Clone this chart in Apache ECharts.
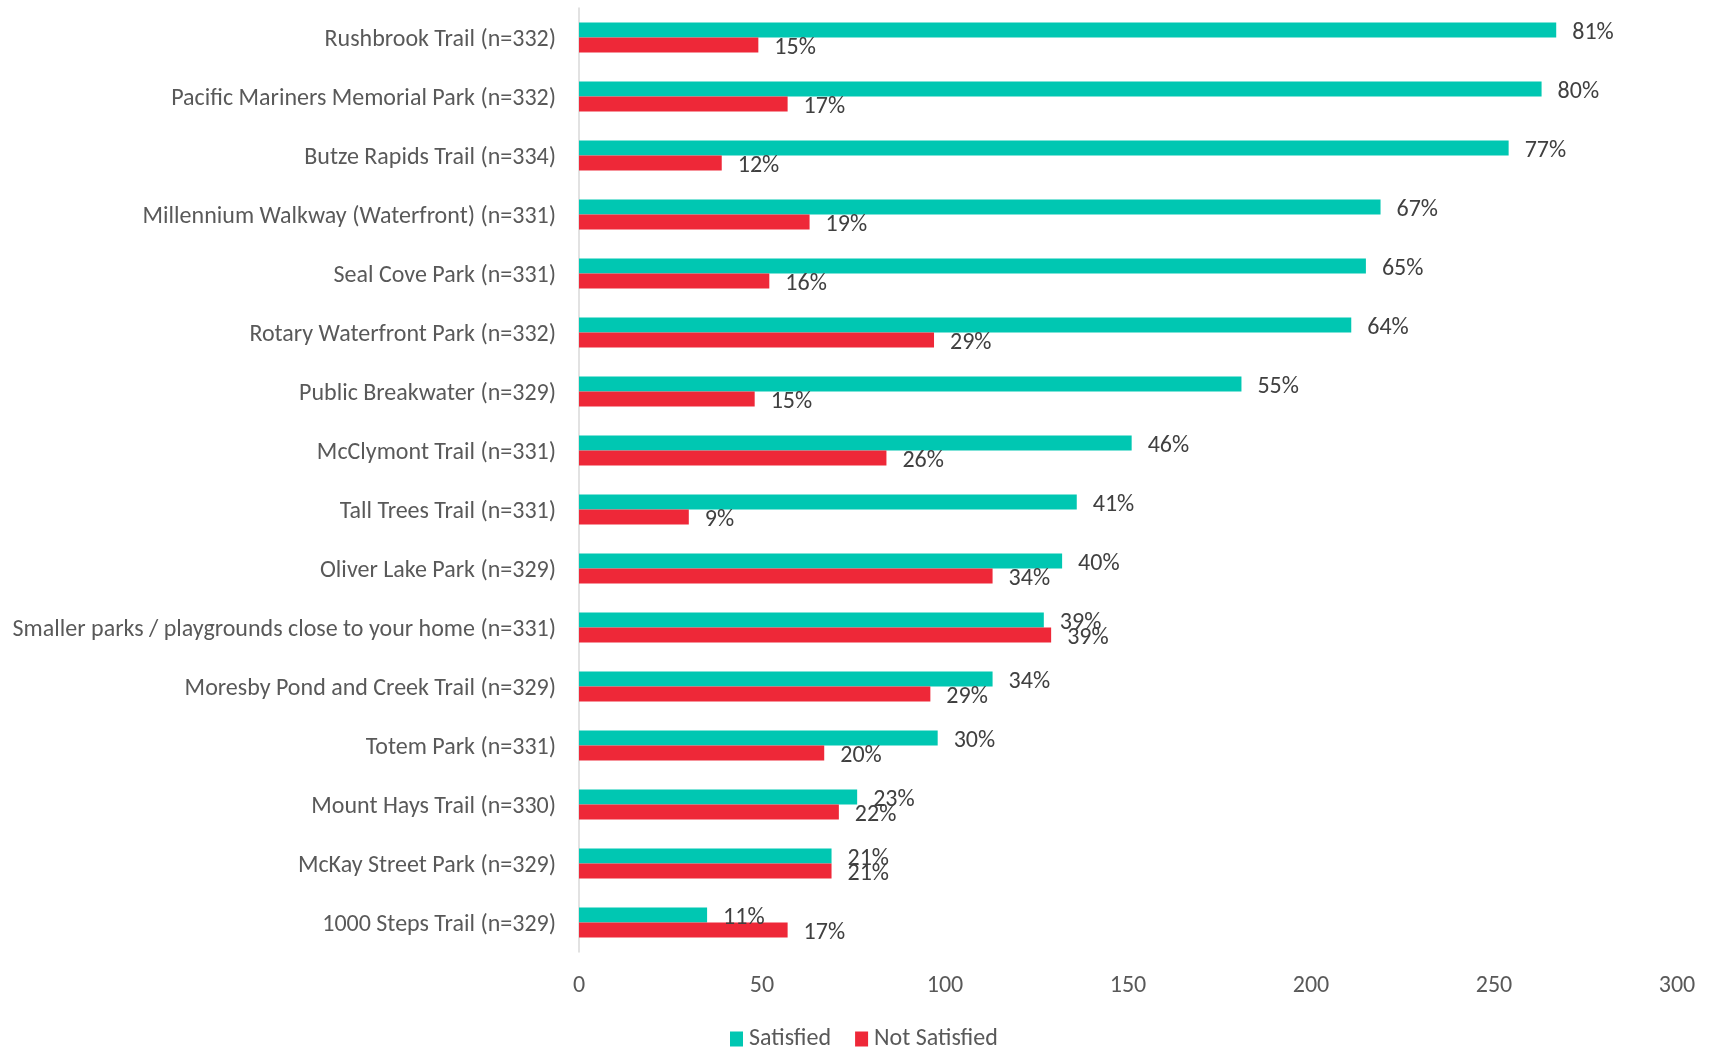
<!DOCTYPE html>
<html>
<head>
<meta charset="utf-8">
<script src="https://cdn.jsdelivr.net/npm/echarts@6/dist/echarts.min.js"></script>
<style>
html,body{margin:0;padding:0;background:#fff;}
#chart{width:1711px;height:1049px;}
</style>
</head>
<body>
<div id="chart"></div>
<script>
const categories = [
  "Rushbrook Trail (n=332)",
  "Pacific Mariners Memorial Park (n=332)",
  "Butze Rapids Trail (n=334)",
  "Millennium Walkway (Waterfront) (n=331)",
  "Seal Cove Park (n=331)",
  "Rotary Waterfront Park (n=332)",
  "Public Breakwater (n=329)",
  "McClymont Trail (n=331)",
  "Tall Trees Trail (n=331)",
  "Oliver Lake Park (n=329)",
  "Smaller parks / playgrounds close to your home (n=331)",
  "Moresby Pond and Creek Trail (n=329)",
  "Totem Park (n=331)",
  "Mount Hays Trail (n=330)",
  "McKay Street Park (n=329)",
  "1000 Steps Trail (n=329)"
];
const satisfiedCounts = [267, 263, 254, 219, 215, 211, 181, 151, 136, 132, 127, 113, 98, 76, 69, 35];
const notSatisfiedCounts = [49, 57, 39, 63, 52, 97, 48, 84, 30, 113, 129, 96, 67, 71, 69, 57];
const satisfiedPct = [81, 80, 77, 67, 65, 64, 55, 46, 41, 40, 39, 34, 30, 23, 21, 11];
const notSatisfiedPct = [15, 17, 12, 19, 16, 29, 15, 26, 9, 34, 39, 29, 20, 22, 21, 17];
const xTicks = [0, 50, 100, 150, 200, 250, 300];

const FONT = "Carlito, Lato, 'Open Sans', sans-serif";
const chart = echarts.init(document.getElementById('chart'));
chart.setOption({
  animation: false,
  backgroundColor: '#ffffff',
  grid: {left: 579, right: 34, top: 8, bottom: 97, containLabel: false},
  legend: {
    data: ['Satisfied', 'Not Satisfied'],
    left: 725, top: 1022,
    itemWidth: 13, itemHeight: 15, itemGap: 24,
    icon: 'rect',
    textStyle: {fontFamily: FONT, fontSize: 24, color: '#595959', padding: [0, 0, 0, 1]}
  },
  xAxis: {
    type: 'value', min: xTicks[0], max: xTicks[xTicks.length - 1], interval: 50,
    axisLine: {show: false}, axisTick: {show: false}, splitLine: {show: false},
    axisLabel: {fontFamily: FONT, fontSize: 24, color: '#595959', margin: 22}
  },
  yAxis: {
    type: 'category', data: categories, inverse: true,
    axisLine: {show: true, lineStyle: {color: '#d9d9d9', width: 1.5}},
    axisTick: {show: false},
    axisLabel: {
      fontFamily: FONT, fontSize: 24, color: '#595959', margin: 23,
      formatter: v => '{c|' + v + '}',
      rich: {c: {fontFamily: FONT, fontSize: 24, color: '#595959', padding: [5, 0, 0, 0]}}
    }
  },
  series: [
    {
      name: 'Satisfied', type: 'bar', data: satisfiedCounts,
      barWidth: 15, barGap: '0%',
      itemStyle: {color: '#00C7B2'},
      label: {show: true, position: 'right', distance: 16, offset: [0, 3], fontFamily: FONT, fontSize: 24, color: '#404040',
        formatter: p => satisfiedPct[p.dataIndex] + '%'}
    },
    {
      name: 'Not Satisfied', type: 'bar', data: notSatisfiedCounts,
      barWidth: 15, barGap: '0%',
      itemStyle: {color: '#EE2838'},
      label: {show: true, position: 'right', distance: 16, offset: [0, 3], fontFamily: FONT, fontSize: 24, color: '#404040',
        formatter: p => notSatisfiedPct[p.dataIndex] + '%'}
    }
  ]
});
</script>
</body>
</html>
